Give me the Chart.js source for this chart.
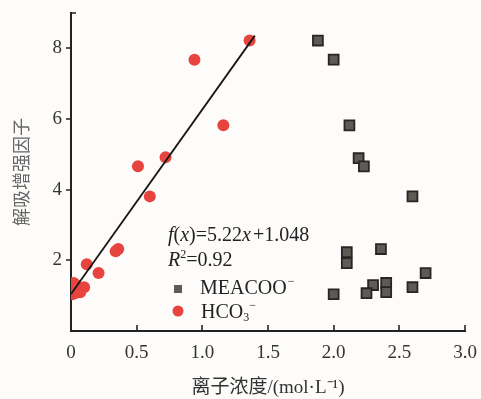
<!DOCTYPE html>
<html>
<head>
<meta charset="utf-8">
<script src="https://cdn.jsdelivr.net/npm/chart.js@4"></script>
<style>
  html, body { margin: 0; padding: 0; background: #fdfcfa; }
  canvas { display: block; }
</style>
</head>
<body>
<canvas id="chart" width="481" height="399"></canvas>
<script>
// ─── DATA ──────────────────────────────────────────────────
const hcoX = [1.36, 0.94, 1.16, 0.72, 0.51, 0.60, 0.34, 0.36, 0.12, 0.21, 0.02, 0.04, 0.10, 0.07, 0.03, 0.01];
const hcoY = [8.22, 7.68, 5.82, 4.92, 4.66, 3.81, 2.26, 2.32, 1.89, 1.64, 1.36, 1.30, 1.24, 1.10, 1.07, 1.04];

const meaX = [1.88, 2.00, 2.12, 2.19, 2.23, 2.60, 2.10, 2.10, 2.36, 2.70, 2.60, 2.40, 2.40, 2.30, 2.25, 2.00];
const meaY = [8.22, 7.68, 5.82, 4.89, 4.66, 3.81, 2.23, 1.92, 2.32, 1.64, 1.24, 1.36, 1.10, 1.30, 1.07, 1.04];

// fitted line f(x) = 5.22x + 1.048, drawn between these ends
const fitX = [0, 1.40];
const fitY = [1.048, 8.36];

const xTicks = [0, 0.5, 1.0, 1.5, 2.0, 2.5, 3.0];
const yTicks = [2, 4, 6, 8];

const SERIF = "'Liberation Serif', 'Times New Roman', serif";
const RED   = '#e8443f';

const toPts = (xs, ys) => xs.map((x, i) => ({ x, y: ys[i] }));

// ─── PLUGINS ───────────────────────────────────────────────
// tick marks: y outward, x inward, top of y axis inward
const axisTicks = {
  id: 'axisTicks',
  afterDraw(chart) {
    const { ctx, chartArea: a, scales: { x, y } } = chart;
    ctx.save();
    ctx.strokeStyle = '#222';
    ctx.lineWidth = 1.6;
    ctx.beginPath();
    xTicks.forEach(v => {
      if (v === 0) return;
      const px = Math.round(x.getPixelForValue(v));
      ctx.moveTo(px, a.bottom);
      ctx.lineTo(px, a.bottom - 6);
    });
    yTicks.forEach(v => {
      const py = Math.round(y.getPixelForValue(v));
      ctx.moveTo(a.left, py);
      ctx.lineTo(a.left - 5, py);
    });
    const top = Math.round(y.getPixelForValue(y.max));
    ctx.moveTo(a.left, top);
    ctx.lineTo(a.left + 5, top);
    ctx.stroke();
    ctx.restore();
  }
};

function drawRich(ctx, x, y, parts) {
  parts.forEach(p => {
    ctx.font = p.font;
    ctx.fillText(p.t, x, y + (p.dy || 0));
    x += ctx.measureText(p.t).width + (p.sp || 0);
  });
}

// equation + legend block inside the plot
const notes = {
  id: 'notes',
  afterDraw(chart) {
    const { ctx } = chart;
    const up  = `20px ${SERIF}`;
    const it  = `italic 20px ${SERIF}`;
    const sm  = `12px ${SERIF}`;
    const x0  = 168;
    ctx.save();
    ctx.fillStyle = '#222';
    ctx.textBaseline = 'alphabetic';
    drawRich(ctx, x0, 241, [
      { t: 'f', font: it }, { t: '(', font: up }, { t: 'x', font: it }, { t: ')=5.22', font: up },
      { t: 'x', font: it, sp: 2 }, { t: '+1.048', font: up }
    ]);
    drawRich(ctx, x0, 266, [
      { t: 'R', font: it }, { t: '2', font: sm, dy: -8 }, { t: '=0.92', font: up }
    ]);
    drawRich(ctx, x0 + 32, 294, [
      { t: 'MEACOO', font: up, sp: 1 }, { t: '−', font: sm, dy: -9 }
    ]);
    drawRich(ctx, x0 + 33, 318, [
      { t: 'HCO', font: up }, { t: '3', font: sm, dy: 3 }, { t: '−', font: sm, dy: -9 }
    ]);
    // markers
    ctx.fillStyle = '#5f5a55';
    ctx.fillRect(x0 + 6, 285, 8, 8);
    ctx.fillStyle = RED;
    ctx.beginPath();
    ctx.arc(x0 + 10, 311, 5.5, 0, Math.PI * 2);
    ctx.fill();
    ctx.restore();
  }
};

// ─── CHART ─────────────────────────────────────────────────
new Chart(document.getElementById('chart'), {
  type: 'scatter',
  data: {
    datasets: [
      {
        type: 'line',
        data: toPts(fitX, fitY),
        borderColor: '#161616',
        borderWidth: 1.8,
        pointRadius: 0,
        fill: false,
        order: 0,
      },
      {
        label: 'MEACOO',
        data: toPts(meaX, meaY),
        pointStyle: 'rect',
        pointRadius: 7,
        backgroundColor: '#5f5a55',
        borderColor: '#262626',
        borderWidth: 1.8,
        order: 1,
      },
      {
        label: 'HCO3',
        data: toPts(hcoX, hcoY),
        pointStyle: 'circle',
        pointRadius: 6,
        backgroundColor: RED,
        borderColor: RED,
        borderWidth: 0,
        clip: { left: 0, right: false, top: false, bottom: false },
        order: 2,
      },
    ],
  },
  options: {
    responsive: false,
    animation: false,
    layout: { padding: { top: 13, right: 16, bottom: 0, left: 0 } },
    plugins: { legend: { display: false }, tooltip: { enabled: false } },
    scales: {
      x: {
        type: 'linear',
        min: 0,
        max: 3,
        grid: { display: false, drawTicks: false },
        border: { display: true, color: '#222', width: 2 },
        ticks: {
          stepSize: 0.5,
          padding: 11,
          color: '#333',
          font: { family: SERIF, size: 19 },
          callback: v => (v === 0 ? '0' : v.toFixed(1)),
        },
        title: {
          display: true,
          text: '离子浓度/(mol·L⁻¹)',
          color: '#333',
          font: { family: "'Liberation Serif', 'Noto Sans CJK SC', serif", size: 19 },
          padding: { top: 0, bottom: 0 },
        },
        afterFit: s => { s.height = 68; s.paddingLeft = 0; s.paddingRight = 0; },
      },
      y: {
        min: 0,
        max: 9,
        grid: { display: false, drawTicks: false },
        border: { display: true, color: '#222', width: 2 },
        ticks: {
          stepSize: 2,
          padding: 9,
          color: '#333',
          font: { family: SERIF, size: 19 },
          callback: v => (yTicks.includes(v) ? String(v) : ''),
        },
        title: {
          display: true,
          text: '解吸增强因子',
          color: '#666',
          font: { family: "'Noto Sans CJK SC', sans-serif", size: 18 },
          padding: { top: 10, bottom: 0 },
        },
        afterFit: s => { s.width = 71; s.paddingTop = 0; s.paddingBottom = 0; },
      },
    },
  },
  plugins: [axisTicks, notes],
});
</script>
</body>
</html>
